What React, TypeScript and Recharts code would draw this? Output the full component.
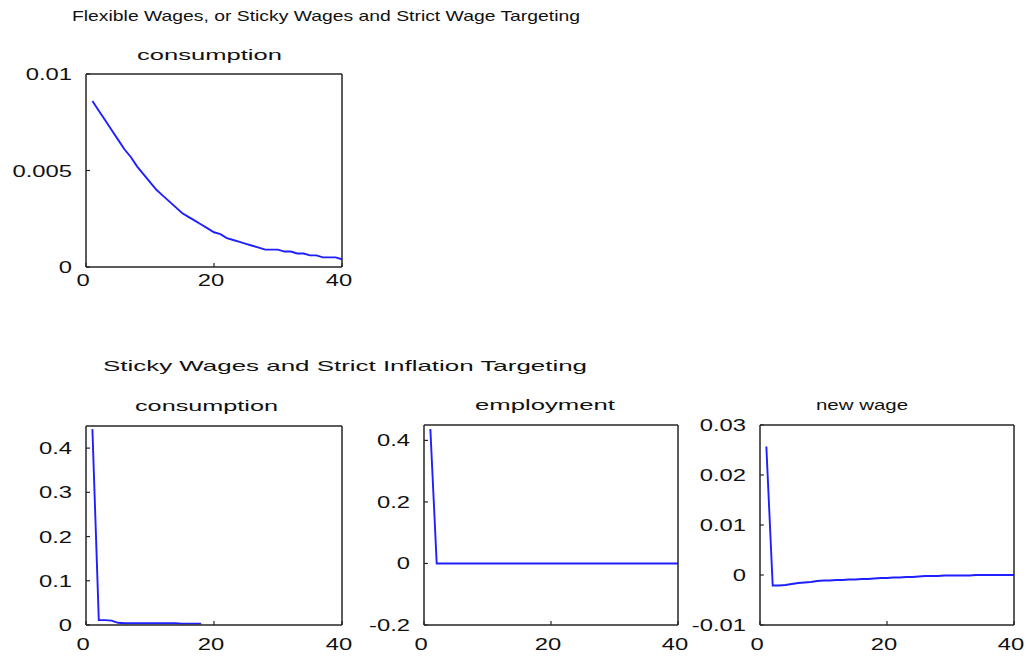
import React from 'react';
import { LineChart, Line, XAxis, YAxis } from 'recharts';

// ---- data ----
const periods = [
  1, 2, 3, 4, 5, 6, 7, 8, 9, 10, 11, 12, 13, 14, 15, 16, 17, 18, 19, 20,
  21, 22, 23, 24, 25, 26, 27, 28, 29, 30, 31, 32, 33, 34, 35, 36, 37, 38, 39, 40,
];

// Flexible wages: consumption
const flexConsumption = [
  0.0086, 0.0081, 0.0076, 0.0071, 0.0066, 0.0061, 0.0057, 0.0052, 0.0048, 0.0044,
  0.004, 0.0037, 0.0034, 0.0031, 0.0028, 0.0026, 0.0024, 0.0022, 0.002, 0.0018,
  0.0017, 0.0015, 0.0014, 0.0013, 0.0012, 0.0011, 0.001, 0.0009, 0.0009, 0.0009,
  0.0008, 0.0008, 0.0007, 0.0007, 0.0006, 0.0006, 0.0005, 0.0005, 0.0005, 0.0004,
];

// Sticky wages & strict inflation targeting
const stickyConsumption = [
  0.443, 0.011, 0.011, 0.01, 0.005, 0.004, 0.004, 0.004, 0.004, 0.004,
  0.004, 0.004, 0.004, 0.004, 0.003, 0.003, 0.003, 0.003,
];
const stickyEmployment = [
  0.437, 0, 0, 0, 0, 0, 0, 0, 0, 0,
  0, 0, 0, 0, 0, 0, 0, 0, 0, 0,
  0, 0, 0, 0, 0, 0, 0, 0, 0, 0,
  0, 0, 0, 0, 0, 0, 0, 0, 0, 0,
];
const stickyNewWage = [
  0.0257, -0.0021, -0.0021, -0.002, -0.0018, -0.0016, -0.0015, -0.0014, -0.0012, -0.0011,
  -0.0011, -0.001, -0.001, -0.0009, -0.0009, -0.0008, -0.0008, -0.0007, -0.0006, -0.0006,
  -0.0005, -0.0005, -0.0004, -0.0004, -0.0003, -0.0002, -0.0002, -0.0002, -0.0001, -0.0001,
  -0.0001, -0.0001, -0.0001, 0, 0, 0, 0, 0, 0, 0,
];

const xTicks = [0, 20, 40];
const flexYTicks = [0, 0.005, 0.01];
const consYTicks = [0, 0.1, 0.2, 0.3, 0.4];
const empYTicks = [-0.2, 0, 0.2, 0.4];
const wageYTicks = [-0.01, 0, 0.01, 0.02, 0.03];

const titleTop = 'Flexible Wages, or Sticky Wages and Strict Wage Targeting';
const titleBottom = 'Sticky Wages and Strict Inflation Targeting';

// ---- styling ----
const FONT = '"Liberation Sans", Arial, Helvetica, sans-serif';
const AXIS = '#262626';
const LINE = '#1f1fff';
const TICK_FONT = 17;
const TICK_SCALE = 1.4;

const build = (vals: number[]) => periods.map((t, i) => ({ t, v: i < vals.length ? vals[i] : null }));

const YTick = (props: any) => {
  const { x, y, payload } = props;
  return (
    <g transform={`translate(${x},${y})`}>
      <text transform={`scale(${TICK_SCALE},1)`} textAnchor="end" dy={6} fontSize={TICK_FONT} fontFamily={FONT} fill="#111">
        {String(payload.value)}
      </text>
    </g>
  );
};

const makeXTick = (dy: number) => (props: any) => {
  const { x, y, payload } = props;
  return (
    <g transform={`translate(${x - 3},${y})`}>
      <text transform={`scale(${TICK_SCALE},1)`} textAnchor="middle" dy={dy} fontSize={TICK_FONT} fontFamily={FONT} fill="#111">
        {String(payload.value)}
      </text>
    </g>
  );
};

type PanelProps = {
  box: [number, number, number, number];
  values: number[];
  yDomain: [number, number];
  yTicks: number[];
  xLabelDy: number;
};

function Panel({ box, values, yDomain, yTicks, xLabelDy }: PanelProps) {
  const [x0, y0, x1, y1] = box;
  const L = 90;
  const T = 10;
  const R = 10;
  const B = 40;
  const W = x1 - x0 + L + R;
  const H = y1 - y0 + T + B;
  const data = build(values);
  const XT = makeXTick(xLabelDy);
  return (
    <div style={{ position: 'absolute', left: x0 - L, top: y0 - T, width: W, height: H }}>
      <LineChart width={W} height={H} data={data} margin={{ top: 0, right: 0, bottom: 0, left: 0 }}>
        <XAxis
          xAxisId="b"
          dataKey="t"
          type="number"
          domain={[0, 40]}
          allowDataOverflow
          ticks={xTicks}
          interval={0}
          height={B}
          tickSize={-4}
          tickMargin={4}
          axisLine={{ stroke: AXIS, strokeWidth: 1.5 }}
          tickLine={{ stroke: AXIS, strokeWidth: 1.2 }}
          tick={XT}
        />
        <XAxis
          xAxisId="t"
          orientation="top"
          dataKey="t"
          type="number"
          domain={[0, 40]}
          allowDataOverflow
          ticks={xTicks}
          interval={0}
          height={T}
          tickSize={-4}
          axisLine={{ stroke: AXIS, strokeWidth: 1.5 }}
          tickLine={{ stroke: AXIS, strokeWidth: 1.2 }}
          tick={false}
        />
        <YAxis
          yAxisId="l"
          type="number"
          domain={yDomain}
          allowDataOverflow
          ticks={yTicks}
          interval={0}
          width={L}
          tickSize={-4}
          tickMargin={18}
          axisLine={{ stroke: AXIS, strokeWidth: 1.5 }}
          tickLine={{ stroke: AXIS, strokeWidth: 1.2 }}
          tick={YTick}
        />
        <YAxis
          yAxisId="r"
          orientation="right"
          type="number"
          domain={yDomain}
          allowDataOverflow
          ticks={yTicks}
          interval={0}
          width={R}
          tickSize={-4}
          axisLine={{ stroke: AXIS, strokeWidth: 1.5 }}
          tickLine={{ stroke: AXIS, strokeWidth: 1.2 }}
          tick={false}
        />
        <Line
          xAxisId="b"
          yAxisId="l"
          type="linear"
          dataKey="v"
          stroke={LINE}
          strokeWidth={1.9}
          dot={false}
          activeDot={false}
          connectNulls={false}
          isAnimationActive={false}
        />
      </LineChart>
    </div>
  );
}

const Title = ({ x, y, text, len, size }: { x: number; y: number; text: string; len: number; size: number }) => (
  <text x={x} y={y} textLength={len} lengthAdjust="spacingAndGlyphs" fontSize={size} fontFamily={FONT} fill="#111">
    {text}
  </text>
);

export default function App() {
  return (
    <div style={{ position: 'absolute', left: 0, top: 0, width: 1026, height: 656, background: '#fff', overflow: 'hidden' }}>
      <Panel box={[86, 74, 342, 267]} values={flexConsumption} yDomain={[0, 0.01]} yTicks={flexYTicks} xLabelDy={19} />
      <Panel box={[86, 426, 342, 625]} values={stickyConsumption} yDomain={[0, 0.45]} yTicks={consYTicks} xLabelDy={25} />
      <Panel box={[424, 425, 678, 625]} values={stickyEmployment} yDomain={[-0.2, 0.45]} yTicks={empYTicks} xLabelDy={25} />
      <Panel box={[760, 425, 1014, 625]} values={stickyNewWage} yDomain={[-0.01, 0.03]} yTicks={wageYTicks} xLabelDy={25} />
      <svg width={1026} height={656} style={{ position: 'absolute', left: 0, top: 0, pointerEvents: 'none' }}>
        <Title x={72} y={21} text={titleTop} len={508} size={15} />
        <Title x={137} y={60} text="consumption" len={145} size={14} />
        <Title x={103} y={371} text={titleBottom} len={484} size={15} />
        <Title x={135} y={411} text="consumption" len={143} size={14} />
        <Title x={475} y={410} text="employment" len={140} size={14} />
        <Title x={816} y={410} text="new wage" len={92} size={15} />
      </svg>
    </div>
  );
}
